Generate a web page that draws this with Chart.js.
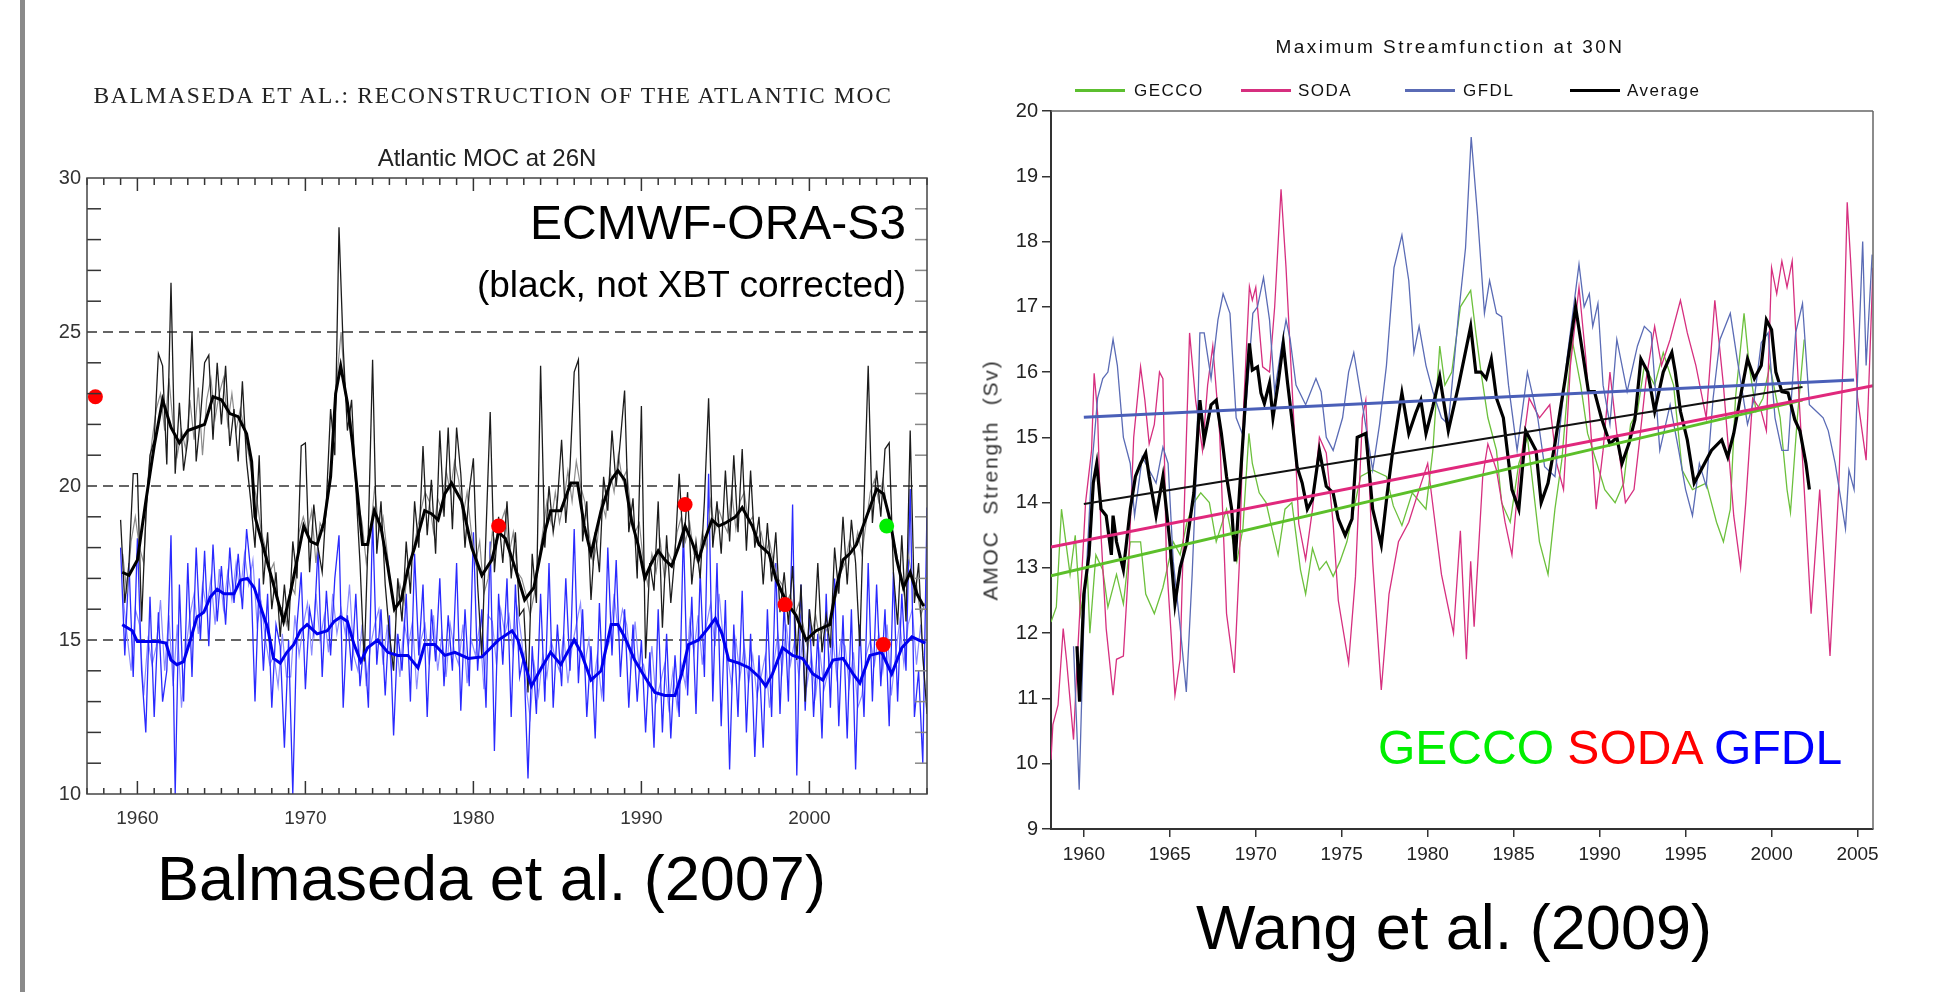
<!DOCTYPE html>
<html>
<head>
<meta charset="utf-8">
<script src="https://cdn.jsdelivr.net/npm/chart.js@4.4.1/dist/chart.umd.min.js"></script>
<style>
  body { margin: 0; width: 1933px; height: 992px; background: #fff; overflow: hidden; position: relative; font-family: 'Liberation Sans', Arial, sans-serif; }
  .abs { position: absolute; white-space: nowrap; line-height: 1; }
  canvas { position: absolute; }
  .leg-line { position: absolute; height: 0; border-top: 3px solid; width: 50px; }
</style>
</head>
<body>
<div class="abs" style="left:20px;top:0;width:5px;height:992px;background:#8a8a8a;"></div>

<canvas id="leftChart" width="960" height="860" style="left:0;top:0;"></canvas>
<canvas id="rightChart" width="973" height="900" style="left:960px;top:0;"></canvas>

<div class="abs" style="left:0;width:986px;top:84px;text-align:center;font-family:'Liberation Serif',serif;font-size:23.5px;letter-spacing:1.7px;color:#222;">BALMASEDA ET AL.: RECONSTRUCTION OF THE ATLANTIC MOC</div>
<div class="abs" style="left:0;width:974px;top:146px;text-align:center;font-size:24px;color:#222;">Atlantic MOC at 26N</div>
<div class="abs" style="left:0;width:906px;top:199px;text-align:right;font-size:48px;color:#000;">ECMWF-ORA-S3</div>
<div class="abs" style="left:0;width:906px;top:266px;text-align:right;font-size:37px;color:#000;">(black, not XBT corrected)</div>
<div class="abs" style="left:157px;top:847px;font-size:63px;color:#000;">Balmaseda et al. (2007)</div>

<div class="abs" style="left:960px;width:980px;top:37px;text-align:center;font-size:19px;letter-spacing:2.5px;color:#111;">Maximum Streamfunction at 30N</div>
<div class="leg-line" style="left:1075px;top:89px;border-color:#5cbf2f;"></div>
<div class="abs" style="left:1134px;top:82px;font-size:17px;letter-spacing:1.5px;color:#111;">GECCO</div>
<div class="leg-line" style="left:1241px;top:89px;border-color:#d62f7f;"></div>
<div class="abs" style="left:1298px;top:82px;font-size:17px;letter-spacing:1.5px;color:#111;">SODA</div>
<div class="leg-line" style="left:1405px;top:89px;border-color:#5a6bb5;"></div>
<div class="abs" style="left:1463px;top:82px;font-size:17px;letter-spacing:1.5px;color:#111;">GFDL</div>
<div class="leg-line" style="left:1570px;top:89px;border-color:#000;"></div>
<div class="abs" style="left:1627px;top:82px;font-size:17px;letter-spacing:1.5px;color:#111;">Average</div>
<div class="abs" style="left:870px;width:240px;top:470px;text-align:center;font-size:21px;letter-spacing:1.8px;word-spacing:8px;color:#333;transform:rotate(-90deg);">AMOC Strength (Sv)</div>
<div class="abs" style="left:1378px;top:724px;font-size:48px;"><span style="color:#00ee00;">GECCO</span> <span style="color:#ff0000;">SODA</span> <span style="color:#0000ff;">GFDL</span></div>
<div class="abs" style="left:1196px;top:896px;font-size:63px;color:#000;">Wang et al. (2009)</div>

<script>
// ---------- left panel: ECMWF-ORA-S3, Atlantic MOC at 26N ----------
const leftYearTicks = [1960, 1970, 1980, 1990, 2000];
const leftValueTicks = [10, 15, 20, 25, 30];
const leftDashedLevels = [15, 20, 25];

// quarterly samples starting at 1959.0 (dark lines) and 1959.125 (light lines)
const ecmwfStartYear = 1959.0;
const ecmwfLightStartYear = 1959.125;
const ecmwfStep = 0.25;
const ecmwfBlack = [
  18.9, 16.2, 17.5, 20.4,  20.4, 15.6, 19.0, 21.0,  21.5, 24.3, 23.9, 20.7,  26.6, 20.4, 22.7, 20.5,
  21.5, 25.0, 20.8, 22.2,  24.0, 24.25, 21.5, 24.0, 22.0, 23.9, 21.3, 22.5,  20.8, 23.4, 20.8, 19.5,
  18.0, 21.0, 16.8, 18.5,  16.0, 17.2, 15.1, 16.8,  15.3, 18.2, 17.0, 21.3,  21.4, 17.2, 19.4, 18.0,
  17.2, 19.5, 22.5, 21.0,  28.4, 24.5, 21.8, 22.8,  20.0, 17.5, 14.3, 18.6,  24.1, 17.8, 19.5, 16.8,
  15.2, 14.0, 17.0, 15.6,  18.2, 16.5, 19.5, 18.0,  21.3, 18.4, 20.2, 17.8,  21.8, 19.0, 21.9, 18.6,
  21.9, 20.4, 18.0, 19.8,  20.9, 16.8, 14.5, 18.5,  22.4, 17.2, 19.0, 17.5,  19.5, 17.0, 18.5, 15.8,
  16.0, 13.3, 17.8, 16.2,  23.9, 18.0, 20.0, 18.5,  19.5, 21.5, 18.8, 20.6,  23.7, 24.1, 18.2, 19.5,
  16.3, 18.5, 17.2, 20.3,  19.2, 21.8, 20.0, 21.5,  23.1, 18.5, 19.6, 17.0,  22.6, 14.4, 17.5, 16.6,
  19.5, 15.4, 18.4, 16.2,  17.8, 20.4, 18.0, 19.8,  16.8, 18.2, 17.0, 19.5,  22.85, 18.0, 19.5, 17.8,
  20.5, 18.2, 21.0, 18.5,  21.2, 17.9, 20.5, 18.0,  19.0, 16.8, 18.8, 16.9,  18.5, 15.9, 17.2, 15.5,
  17.4, 14.35, 16.8, 13.0, 16.0, 14.8, 17.5, 14.6,  15.8, 14.75, 18.0, 16.5, 19.0, 16.8, 18.9, 17.5,
  14.8, 19.5, 23.9, 18.8,  20.5, 19.0, 21.2, 21.4,  17.2, 15.5, 18.4, 15.6,  21.8, 16.2, 17.5, 14.5,
  12.6
];
const ecmwfGray = [
  17.8, 16.5, 18.2, 19.0,  18.0, 17.5, 20.2, 21.5,  22.5, 23.0, 21.8, 23.5,  22.0, 21.0, 21.8, 21.2,
  22.8, 21.5, 23.2, 21.0,  22.8, 23.5, 22.2, 23.0,  23.5, 22.0, 23.0, 21.8,  22.5, 21.8, 21.0, 20.2,
  19.5, 18.5, 18.0, 17.2,  17.5, 16.2, 16.0, 15.5,  16.8, 16.5, 18.5, 19.0,  18.5, 19.2, 17.5, 18.8,
  18.5, 20.0, 21.0, 23.5,  25.0, 23.0, 22.5, 21.2,  19.5, 18.8, 17.5, 18.5,  20.0, 18.5, 19.0, 17.8,
  16.5, 15.8, 16.8, 16.2,  17.5, 17.8, 18.5, 19.2,  19.8, 19.5, 18.5, 19.6,  19.2, 20.5, 19.8, 20.8,
  20.2, 19.0, 19.8, 18.5,  17.5, 18.2, 16.5, 17.0,  18.5, 18.0, 18.8, 19.2,  17.8, 18.5, 17.2, 17.0,
  16.5, 15.8, 16.5, 17.5,  18.5, 19.5, 18.8, 19.8,  18.8, 19.5, 20.5, 19.5,  20.8, 20.0, 19.5, 18.5,
  17.5, 18.2, 19.5, 19.0,  20.5, 19.8, 21.0, 20.2,  20.5, 19.2, 18.5, 18.8,  17.5, 16.8, 17.8, 17.2,
  18.2, 17.0, 17.8, 17.5,  18.5, 19.0, 18.2, 18.8,  17.8, 17.5, 18.5, 18.0,  19.5, 18.5, 19.2, 18.8,
  18.5, 19.8, 18.6, 19.5,  19.8, 18.8, 19.0, 18.2,  18.5, 17.8, 18.2, 17.5,  17.0, 16.8, 16.2, 16.5,
  15.8, 16.2, 15.5, 14.8,  15.2, 15.8, 15.0, 15.5,  15.2, 16.0, 16.5, 17.2,  17.5, 18.2, 17.8, 18.5,
  17.8, 18.8, 19.8, 20.2,  19.5, 20.2, 19.2, 18.5,  18.0, 17.2, 16.5, 17.8,  17.0, 16.8, 15.8, 16.2
];
const ecmwfBlue = [
  18.0, 14.5, 17.5, 13.8,  18.3, 14.0, 12.0, 16.4,  12.5, 15.9, 13.0, 14.0,  18.4, 10.0, 16.8, 13.0,
  17.5, 13.8, 18.0, 15.0,  17.9, 14.8, 18.1, 15.6,  17.4, 15.5, 18.0, 16.2,  17.8, 16.0, 18.6, 17.2,
  13.0, 17.0, 14.0, 16.5,  12.8, 15.5, 14.8, 11.5,  15.0, 10.0, 15.5, 17.2,  13.4, 16.0, 15.2, 18.0,
  13.8, 16.6, 14.5, 17.0,  18.4, 12.8, 15.8, 14.0,  16.5, 13.5, 15.0, 12.8,  19.0, 14.2, 16.0, 13.2,
  15.8, 11.9, 15.2, 14.0,  16.5, 13.0, 17.8, 14.5,  16.8, 12.5, 16.0, 14.3,  17.0, 13.5, 15.8, 14.0,
  17.5, 12.7, 16.0, 13.5,  18.5, 14.0, 16.0, 12.8,  18.2, 11.4, 16.5, 14.2,  17.0, 12.5, 16.8, 13.8,
  14.5, 10.5, 14.8, 12.6,  16.5, 13.0, 17.5, 12.8,  15.5, 13.5, 17.0, 14.0,  18.6, 13.6, 16.0, 12.5,
  14.8, 11.8, 16.2, 13.0,  18.0, 14.5, 17.6, 13.8,  16.0, 12.8, 15.5, 13.0,  15.0, 12.0, 14.6, 11.5,
  16.0, 12.0, 15.2, 11.8,  14.5, 12.5, 18.6, 13.2,  16.4, 12.6, 17.2, 13.8,  20.4, 13.0, 17.5, 12.2,
  16.3, 10.8, 15.5, 12.5,  16.6, 12.0, 15.2, 11.2,  14.5, 11.5, 16.0, 12.5,  17.5, 12.6, 16.2, 13.0,
  19.4, 10.6, 16.8, 12.7,  16.0, 12.5, 15.2, 11.8,  16.5, 12.8, 17.0, 12.2,  15.8, 11.8, 16.0, 10.8,
  15.5, 12.5, 17.5, 13.0,  16.8, 13.5, 16.0, 12.2,  17.2, 13.0, 16.5, 14.0,  19.9, 12.5, 14.0, 11.0,
  19.3
];
const ecmwfBlueLight = [
  16.5, 15.2, 14.0, 16.0,  15.5, 13.2, 15.0, 14.2,  14.8, 16.3, 14.0, 15.8,  13.5, 15.5, 12.8, 14.6,
  15.8, 16.5, 15.2, 16.8,  16.0, 17.0, 15.5, 17.3,  16.0, 17.2, 16.3, 17.5,  16.5, 17.8, 16.8, 17.6,
  15.5, 16.2, 15.0, 14.2,  14.5, 13.5, 15.2, 13.8,  13.8, 15.8, 14.5, 15.5,  16.2, 14.5, 16.5, 15.0,
  15.8, 14.6, 16.5, 15.2,  16.0, 15.2, 16.8, 14.5,  14.0, 15.5, 13.5, 14.8,  15.5, 16.0, 14.2, 15.5,
  14.0, 15.2, 13.8, 15.6,  14.8, 15.6, 13.4, 15.0,  15.5, 14.2, 15.8, 14.0,  15.2, 13.8, 15.5, 14.6,
  14.2, 15.5, 13.6, 15.0,  14.5, 15.5, 13.4, 15.8,  15.6, 14.2, 16.0, 15.2,  15.8, 14.6, 16.0, 15.0,
  13.5, 12.5, 14.2, 13.2,  14.5, 13.8, 15.0, 14.4,  14.0, 15.2, 13.6, 14.8,  15.5, 16.2, 14.2, 15.0,
  13.5, 14.5, 13.2, 14.6,  15.0, 16.5, 15.2, 16.0,  15.5, 14.2, 15.6, 14.0,  14.2, 13.5, 14.8, 13.0,
  13.6, 14.2, 12.8, 14.0,  12.8, 14.2, 13.5, 15.6,  14.6, 15.8, 14.2, 15.5,  16.2, 14.8, 16.5, 15.0,
  14.5, 13.5, 15.0, 13.8,  14.8, 13.6, 14.5, 13.2,  13.8, 14.5, 12.8, 14.2,  15.2, 14.0, 15.5, 14.2,
  15.0, 13.8, 15.2, 13.6,  14.5, 13.2, 14.6, 13.4,  14.0, 15.2, 13.8, 15.0,  14.8, 13.5, 14.6, 12.8,
  13.2, 14.5, 15.0, 14.2,  15.2, 14.0, 15.5, 13.2,  14.5, 15.6, 14.2, 15.5,  16.0, 14.2, 15.5, 13.5
];
// smoothed curves, [year, value]
const ecmwfBlackSmooth = [
  [1959.1, 17.2], [1959.5, 17.1], [1960.0, 17.6], [1960.5, 19.5], [1961.0, 21.3], [1961.5, 22.8],
  [1962.0, 21.9], [1962.5, 21.4], [1963.0, 21.8], [1963.5, 21.9], [1964.0, 22.0], [1964.5, 22.9],
  [1965.0, 22.8], [1965.5, 22.35], [1966.0, 22.25], [1966.5, 21.7], [1966.8, 20.8], [1967.0, 19.0],
  [1967.5, 18.0], [1968.0, 17.0], [1968.7, 15.6], [1969.1, 16.5], [1969.5, 17.6], [1969.9, 18.7],
  [1970.3, 18.2], [1970.7, 18.1], [1971.1, 18.8], [1971.5, 20.3], [1971.8, 23.0], [1972.1, 23.9],
  [1972.5, 22.7], [1972.8, 21.4], [1973.1, 19.75], [1973.4, 18.1], [1973.7, 18.1], [1974.1, 19.2],
  [1974.5, 18.65], [1974.9, 17.4], [1975.3, 16.0], [1975.7, 16.3], [1976.1, 17.3], [1976.5, 18.0],
  [1977.1, 19.2], [1977.5, 19.1], [1977.9, 18.9], [1978.3, 19.75], [1978.7, 20.1], [1979.3, 19.5],
  [1979.9, 18.0], [1980.5, 17.1], [1981.1, 17.6], [1981.5, 18.5], [1981.9, 18.3], [1982.45, 17.4],
  [1983.05, 16.3], [1983.6, 16.7], [1984.25, 18.5], [1984.6, 19.2], [1985.2, 19.2], [1985.8, 20.1],
  [1986.2, 20.1], [1986.6, 18.7], [1987.0, 17.8], [1987.6, 19.2], [1988.2, 20.2], [1988.6, 20.5],
  [1989.0, 20.2], [1989.4, 18.9], [1989.8, 18.1], [1990.2, 17.0], [1990.6, 17.5], [1991.0, 17.9],
  [1991.4, 17.6], [1991.8, 17.4], [1992.2, 18.0], [1992.6, 18.7], [1993.0, 18.2], [1993.4, 17.6],
  [1993.8, 18.3], [1994.2, 18.9], [1994.6, 18.7], [1995.0, 18.8], [1995.6, 19.0], [1996.0, 19.3],
  [1996.6, 18.7], [1997.0, 18.1], [1997.6, 17.8], [1998.0, 17.0], [1998.4, 16.5], [1998.8, 16.1],
  [1999.2, 15.8], [1999.8, 15.0], [2000.4, 15.3], [2001.2, 15.5], [2001.6, 16.7], [2002.0, 17.6],
  [2002.4, 17.8], [2002.8, 18.1], [2003.2, 18.7], [2003.6, 19.3], [2004.0, 19.9], [2004.4, 19.75],
  [2004.8, 18.9], [2005.2, 17.6], [2005.6, 16.7], [2006.0, 17.2], [2006.4, 16.5], [2006.8, 16.1]
];
const ecmwfBlueSmooth = [
  [1959.1, 15.5], [1959.4, 15.4], [1959.7, 15.3], [1960.0, 14.95], [1960.6, 14.95], [1961.2, 14.95],
  [1961.7, 14.9], [1962.0, 14.35], [1962.35, 14.2], [1962.75, 14.3], [1963.15, 15.0], [1963.55, 15.75],
  [1963.95, 15.9], [1964.35, 16.4], [1964.75, 16.65], [1965.15, 16.5], [1965.75, 16.5], [1966.15, 16.95],
  [1966.55, 17.0], [1966.95, 16.7], [1967.35, 16.05], [1967.75, 15.4], [1968.1, 14.4], [1968.5, 14.25],
  [1968.9, 14.6], [1969.3, 14.85], [1969.7, 15.3], [1970.1, 15.5], [1970.7, 15.2], [1971.3, 15.3],
  [1971.7, 15.6], [1972.1, 15.75], [1972.5, 15.6], [1972.9, 14.85], [1973.3, 14.3], [1973.7, 14.75],
  [1974.3, 15.0], [1974.9, 14.6], [1975.5, 14.5], [1976.1, 14.5], [1976.7, 14.1], [1977.1, 14.85],
  [1977.7, 14.85], [1978.3, 14.5], [1978.9, 14.6], [1979.7, 14.4], [1980.5, 14.45], [1981.5, 15.0],
  [1982.3, 15.3], [1982.65, 15.0], [1983.45, 13.5], [1984.05, 14.1], [1984.6, 14.6], [1985.2, 14.2],
  [1986.0, 15.0], [1986.4, 14.6], [1987.0, 13.7], [1987.6, 14.0], [1988.2, 15.5], [1988.6, 15.5],
  [1989.0, 15.1], [1989.6, 14.35], [1990.2, 13.8], [1990.8, 13.3], [1991.4, 13.2], [1992.0, 13.2],
  [1992.4, 13.9], [1992.8, 14.85], [1993.4, 15.0], [1994.0, 15.4], [1994.4, 15.7], [1994.8, 15.2],
  [1995.2, 14.35], [1995.8, 14.25], [1996.4, 14.1], [1997.0, 13.8], [1997.4, 13.5], [1997.8, 13.9],
  [1998.4, 14.75], [1999.0, 14.5], [1999.6, 14.4], [2000.2, 13.9], [2000.8, 13.7], [2001.4, 14.35],
  [2002.0, 14.4], [2002.6, 13.9], [2003.0, 13.6], [2003.6, 14.5], [2004.3, 14.6], [2004.9, 13.9],
  [2005.5, 14.75], [2006.1, 15.1], [2006.9, 14.9]
];
// observational estimates (dots)
const redDotYears = [1957.5, 1981.5, 1992.6, 1998.55, 2004.4];
const redDotValues = [22.9, 18.7, 19.4, 16.15, 14.85];
const greenDotYears = [2004.6];
const greenDotValues = [18.7];

// ---------- right panel: Maximum Streamfunction at 30N ----------
const rightYearTicks = [1960, 1965, 1970, 1975, 1980, 1985, 1990, 1995, 2000, 2005];
const rightValueTicks = [9, 10, 11, 12, 13, 14, 15, 16, 17, 18, 19, 20];

const gecco = [
  [1958.09, 12.17], [1958.4, 12.4], [1958.7, 13.9], [1959.2, 12.9], [1959.5, 13.5], [1959.8, 12.3],
  [1960.2, 12.97], [1960.35, 12.0], [1960.7, 13.2], [1961.1, 12.97], [1961.4, 12.4], [1961.9, 12.9],
  [1962.3, 12.45], [1962.7, 13.4], [1963.3, 13.4], [1963.6, 12.6], [1964.1, 12.3], [1964.6, 12.7],
  [1965.2, 13.4], [1965.6, 13.2], [1966.0, 13.7], [1966.4, 14.0], [1966.8, 14.15], [1967.3, 14.0],
  [1967.7, 13.4], [1968.3, 13.9], [1968.9, 13.1], [1969.25, 13.6], [1969.6, 15.06], [1969.8, 14.6],
  [1970.2, 14.15], [1970.6, 14.0], [1970.9, 13.65], [1971.3, 13.2], [1971.7, 13.9], [1972.1, 14.0],
  [1972.6, 12.97], [1972.9, 12.6], [1973.3, 13.3], [1973.7, 12.97], [1974.1, 13.1], [1974.5, 12.87],
  [1974.9, 13.1], [1975.3, 13.4], [1975.7, 13.9], [1976.1, 14.4], [1976.8, 14.5], [1977.6, 14.4],
  [1978.0, 13.95], [1978.5, 13.65], [1979.1, 14.15], [1979.9, 13.9], [1980.3, 14.8], [1980.7, 16.4],
  [1981.0, 15.8], [1981.4, 16.0], [1981.9, 17.0], [1982.5, 17.25], [1982.8, 16.6], [1983.1, 16.0],
  [1983.5, 15.3], [1984.0, 14.8], [1984.3, 14.0], [1984.8, 13.7], [1985.3, 14.6], [1985.8, 15.0],
  [1986.5, 13.4], [1987.0, 12.9], [1987.4, 13.9], [1987.8, 14.65], [1988.1, 15.6], [1988.4, 16.5],
  [1988.9, 15.8], [1989.3, 15.06], [1989.9, 14.55], [1990.3, 14.2], [1990.9, 14.0], [1991.4, 14.3],
  [1991.8, 15.2], [1992.2, 15.4], [1992.6, 16.1], [1993.2, 15.8], [1993.7, 16.3], [1994.3, 15.8],
  [1994.8, 14.5], [1995.4, 14.2], [1996.2, 14.3], [1996.8, 13.7], [1997.2, 13.4], [1997.6, 13.9],
  [1997.9, 15.6], [1998.4, 16.9], [1998.7, 16.1], [1999.1, 15.4], [1999.5, 15.6], [1999.9, 16.1],
  [2000.5, 15.3], [2000.9, 14.2], [2001.1, 13.85], [2001.5, 15.3], [2001.9, 16.5]
];
const soda = [
  [1958.09, 10.06], [1958.2, 10.6], [1958.5, 10.9], [1958.8, 12.07], [1959.0, 11.57], [1959.4, 10.37],
  [1959.6, 11.5], [1959.8, 12.5], [1960.1, 14.0], [1960.45, 14.8], [1960.6, 15.98], [1960.8, 15.37],
  [1961.0, 13.5], [1961.3, 12.07], [1961.7, 11.05], [1961.9, 11.6], [1962.3, 11.65], [1962.6, 13.0],
  [1962.9, 15.0], [1963.3, 16.08], [1963.55, 15.57], [1963.8, 14.9], [1964.1, 15.2], [1964.4, 16.0],
  [1964.6, 15.9], [1964.8, 13.13], [1965.3, 11.05], [1965.6, 11.6], [1965.85, 14.0], [1966.15, 16.6],
  [1966.5, 15.57], [1966.9, 14.8], [1967.2, 15.8], [1967.5, 16.4], [1967.9, 15.06], [1968.3, 12.3],
  [1968.75, 11.39], [1969.05, 13.1], [1969.3, 15.5], [1969.63, 17.31], [1969.8, 17.1], [1970.0, 17.3],
  [1970.4, 16.08], [1970.8, 16.0], [1971.1, 17.0], [1971.47, 18.8], [1971.76, 17.6], [1972.05, 16.08],
  [1972.3, 14.8], [1972.5, 13.68], [1972.9, 13.13], [1973.3, 13.9], [1973.7, 15.0], [1974.1, 14.76],
  [1974.5, 13.68], [1974.8, 12.5], [1975.4, 11.54], [1975.8, 12.87], [1976.2, 15.3], [1976.4, 15.57],
  [1976.8, 13.1], [1977.3, 11.13], [1977.75, 12.6], [1978.3, 13.4], [1978.9, 13.7], [1979.5, 14.2],
  [1980.0, 14.6], [1980.2, 14.17], [1980.8, 12.9], [1981.5, 12.0], [1981.9, 13.57], [1982.25, 11.6],
  [1982.5, 13.1], [1982.7, 12.1], [1983.2, 14.4], [1983.5, 14.9], [1984.0, 14.5], [1984.5, 13.7],
  [1984.9, 13.2], [1985.3, 14.4], [1985.9, 15.6], [1986.5, 15.3], [1987.1, 15.5], [1987.5, 14.6],
  [1987.9, 14.2], [1988.3, 16.1], [1988.8, 17.3], [1989.2, 16.2], [1989.8, 13.9], [1990.2, 14.8],
  [1990.6, 16.0], [1991.0, 15.06], [1991.5, 14.0], [1992.0, 14.2], [1992.3, 14.9], [1992.7, 15.88],
  [1993.2, 16.7], [1993.6, 16.1], [1994.1, 16.5], [1994.7, 17.1], [1995.1, 16.6], [1995.6, 16.1],
  [1996.2, 15.3], [1996.7, 17.1], [1997.2, 15.8], [1997.8, 13.8], [1998.2, 13.0], [1998.5, 14.0],
  [1998.9, 15.6], [1999.4, 15.4], [1999.7, 15.1], [2000.0, 17.6], [2000.3, 17.2], [2000.6, 17.7],
  [2000.9, 17.3], [2001.2, 17.7], [2001.6, 15.6], [2001.9, 14.2], [2002.3, 12.3], [2002.8, 14.2],
  [2003.4, 11.65], [2003.9, 14.2], [2004.2, 16.5], [2004.4, 18.6], [2004.6, 17.7], [2005.0, 15.6],
  [2005.5, 14.65], [2005.9, 17.6]
];
const gfdl = [
  [1959.4, 11.8], [1959.73, 9.6], [1960.0, 12.2], [1960.45, 14.5], [1960.8, 15.6], [1961.1, 15.9],
  [1961.4, 16.0], [1961.7, 16.5], [1961.95, 16.1], [1962.3, 15.0], [1962.7, 14.6], [1962.95, 13.8],
  [1963.4, 14.7], [1963.8, 14.5], [1964.2, 14.3], [1964.6, 14.85], [1964.9, 14.6], [1965.2, 13.1],
  [1965.6, 12.1], [1965.96, 11.1], [1966.3, 12.9], [1966.5, 14.2], [1966.75, 16.6], [1967.0, 16.6],
  [1967.4, 15.9], [1967.8, 16.8], [1968.1, 17.2], [1968.5, 16.9], [1968.86, 15.3], [1969.3, 15.0],
  [1969.83, 16.9], [1970.1, 17.0], [1970.45, 17.45], [1970.8, 16.8], [1971.1, 15.7], [1971.5, 16.4],
  [1971.76, 16.8], [1972.0, 16.5], [1972.34, 15.8], [1972.9, 15.5], [1973.5, 15.9], [1973.8, 15.7],
  [1974.1, 15.0], [1974.5, 14.8], [1975.05, 15.3], [1975.4, 16.0], [1975.7, 16.3], [1976.2, 15.5],
  [1976.8, 14.5], [1977.2, 15.2], [1977.6, 16.1], [1978.04, 17.6], [1978.5, 18.1], [1978.9, 17.4],
  [1979.2, 16.3], [1979.5, 16.7], [1979.9, 16.1], [1980.3, 15.7], [1980.8, 15.3], [1981.2, 15.2],
  [1981.8, 16.9], [1982.2, 17.9], [1982.53, 19.6], [1982.9, 18.4], [1983.3, 16.9], [1983.6, 17.4],
  [1984.0, 16.9], [1984.3, 16.85], [1984.7, 15.8], [1985.2, 14.8], [1985.8, 16.0], [1986.4, 15.3],
  [1986.8, 14.55], [1987.4, 14.4], [1988.1, 16.2], [1988.8, 17.65], [1989.1, 17.0], [1989.4, 17.2],
  [1989.6, 16.7], [1989.9, 17.05], [1990.2, 15.8], [1990.6, 15.2], [1991.0, 16.5], [1991.6, 15.7],
  [1992.2, 16.4], [1992.6, 16.7], [1993.0, 16.6], [1993.5, 14.8], [1994.1, 15.5], [1994.6, 14.8],
  [1995.0, 14.2], [1995.4, 13.8], [1995.8, 14.6], [1996.2, 14.25], [1996.6, 15.6], [1997.0, 16.5],
  [1997.6, 16.9], [1998.0, 16.2], [1998.6, 15.2], [1999.0, 15.6], [1999.4, 16.45], [1999.8, 16.6],
  [2000.2, 15.3], [2000.6, 14.8], [2000.96, 14.8], [2001.4, 16.6], [2001.8, 17.05], [2002.2, 15.5],
  [2002.6, 15.4], [2003.0, 15.3], [2003.3, 15.1], [2003.7, 14.6], [2004.3, 13.6], [2004.5, 14.5],
  [2004.8, 14.2], [2005.0, 15.9], [2005.3, 18.0], [2005.5, 16.1], [2005.85, 17.8]
];
const average = [
  [1959.6, 11.8], [1959.75, 10.95], [1960.0, 12.6], [1960.3, 13.2], [1960.55, 14.3], [1960.75, 14.6],
  [1961.0, 13.9], [1961.3, 13.8], [1961.6, 13.2], [1961.7, 13.8], [1961.9, 13.4], [1962.3, 12.97],
  [1962.7, 13.9], [1963.0, 14.4], [1963.3, 14.6], [1963.6, 14.76], [1963.8, 14.4], [1964.2, 13.8],
  [1964.6, 14.4], [1965.0, 13.4], [1965.3, 12.45], [1965.6, 13.0], [1966.0, 13.4], [1966.4, 14.15],
  [1966.75, 15.57], [1967.0, 14.96], [1967.4, 15.5], [1967.7, 15.57], [1968.0, 15.06], [1968.3, 14.4],
  [1968.6, 13.9], [1968.8, 13.1], [1969.05, 14.15], [1969.4, 15.57], [1969.63, 16.44], [1969.8, 16.03],
  [1970.1, 16.08], [1970.3, 15.68], [1970.5, 15.52], [1970.8, 15.83], [1971.0, 15.3], [1971.3, 15.83],
  [1971.6, 16.44], [1971.85, 15.83], [1972.15, 15.17], [1972.4, 14.55], [1972.7, 14.3], [1973.0, 13.9],
  [1973.3, 14.05], [1973.7, 14.8], [1974.1, 14.25], [1974.5, 14.15], [1974.8, 13.75], [1975.2, 13.5],
  [1975.6, 13.75], [1975.9, 15.0], [1976.4, 15.06], [1976.8, 13.9], [1977.3, 13.35], [1977.65, 14.15],
  [1977.95, 14.76], [1978.5, 15.68], [1978.9, 15.06], [1979.3, 15.37], [1979.6, 15.57], [1979.9, 15.06],
  [1980.3, 15.47], [1980.7, 15.93], [1981.2, 15.1], [1981.8, 15.8], [1982.5, 16.7], [1982.8, 16.0],
  [1983.1, 16.0], [1983.4, 15.9], [1983.7, 16.2], [1984.0, 15.6], [1984.4, 15.3], [1984.9, 14.2],
  [1985.3, 13.9], [1985.7, 15.1], [1986.3, 14.8], [1986.6, 14.0], [1987.0, 14.3], [1987.4, 14.9],
  [1988.0, 15.9], [1988.6, 17.0], [1988.95, 16.4], [1989.35, 15.7], [1989.7, 15.7], [1990.1, 15.3],
  [1990.6, 14.9], [1991.0, 15.0], [1991.3, 14.6], [1991.7, 14.9], [1992.05, 15.27], [1992.4, 16.2],
  [1992.8, 16.0], [1993.2, 15.4], [1993.7, 16.0], [1994.2, 16.3], [1994.4, 16.0], [1994.7, 15.4],
  [1995.1, 14.96], [1995.5, 14.3], [1996.1, 14.6], [1996.5, 14.8], [1997.1, 14.96], [1997.45, 14.7],
  [1997.8, 15.06], [1998.3, 15.78], [1998.6, 16.2], [1999.0, 15.9], [1999.4, 16.1], [1999.7, 16.8],
  [2000.0, 16.65], [2000.25, 16.0], [2000.6, 15.7], [2000.96, 15.68], [2001.35, 15.27], [2001.65, 15.1],
  [2002.0, 14.6], [2002.2, 14.2]
];
// linear trends: [start, end]
const geccoTrend = [[1958.09, 12.88], [2001.8, 15.57]];
const sodaTrend = [[1958.09, 13.32], [2005.9, 15.79]];
const gfdlTrend = [[1960.0, 15.31], [2004.8, 15.88]];
const averageTrend = [[1960.0, 13.98], [2001.8, 15.77]];

// ---------- helpers ----------
const toPoints = pairs => pairs.map(p => ({ x: p[0], y: p[1] }));
const stepPoints = (start, step, values) => values.map((v, i) => ({ x: start + i * step, y: v }));
const zipPoints = (xs, ys) => xs.map((x, i) => ({ x: x, y: ys[i] }));

function lineSet(label, data, color, width, order) {
  return { label, data, borderColor: color, borderWidth: width, pointRadius: 0, tension: 0, fill: false, order };
}

function fixedTicks(values) {
  return scale => { scale.ticks = values.map(v => ({ value: v })); };
}

function strokeLine(ctx, x1, y1, x2, y2) {
  ctx.beginPath();
  ctx.moveTo(x1, y1);
  ctx.lineTo(x2, y2);
  ctx.stroke();
}

// dashed levels drawn under the data, frame and inward ticks on top
const leftFrame = {
  id: 'leftFrame',
  beforeDatasetsDraw(chart) {
    const { ctx, chartArea: a, scales: { y } } = chart;
    ctx.save();
    ctx.strokeStyle = '#333';
    ctx.lineWidth = 1.5;
    ctx.setLineDash([10, 6]);
    leftDashedLevels.forEach(v => {
      const py = y.getPixelForValue(v);
      strokeLine(ctx, a.left, py, a.right, py);
    });
    ctx.restore();
  },
  afterDatasetsDraw(chart) {
    const { ctx, chartArea: a, scales: { x, y } } = chart;
    ctx.save();
    ctx.lineWidth = 1.5;
    ctx.strokeStyle = '#333';
    for (let yr = Math.ceil(x.min); yr <= x.max; yr++) {
      const px = x.getPixelForValue(yr);
      const major = yr % 10 === 0;
      strokeLine(ctx, px, a.top, px, a.top + (major ? 13 : 7));
      strokeLine(ctx, px, a.bottom, px, a.bottom - (major ? 13 : 6));
    }
    for (let v = y.min + 1; v < y.max; v++) {
      if (v % 5 === 0) continue;
      const py = y.getPixelForValue(v);
      ctx.strokeStyle = '#333';
      strokeLine(ctx, a.left, py, a.left + 14, py);
      ctx.strokeStyle = '#888';
      strokeLine(ctx, a.right, py, a.right - 12, py);
    }
    ctx.strokeStyle = '#444';
    ctx.strokeRect(a.left, a.top, a.right - a.left, a.bottom - a.top);
    ctx.restore();
  }
};

const rightFrame = {
  id: 'rightFrame',
  afterDatasetsDraw(chart) {
    const { ctx, chartArea: a } = chart;
    ctx.save();
    ctx.strokeStyle = '#666';
    ctx.lineWidth = 1.5;
    strokeLine(ctx, a.left, a.top, a.right, a.top);
    strokeLine(ctx, a.right, a.top, a.right, a.bottom);
    ctx.restore();
  }
};

Chart.defaults.animation = false;
Chart.defaults.font.family = "'Liberation Sans', Arial, sans-serif";

function createLeftChart(ctx) {
  return new Chart(ctx, {
    type: 'line',
    data: {
      datasets: [
        { type: 'scatter', label: 'obs', data: zipPoints(redDotYears, redDotValues), backgroundColor: '#ff0000', borderWidth: 0, pointRadius: 7.5, order: 0 },
        { type: 'scatter', label: 'obs2', data: zipPoints(greenDotYears, greenDotValues), backgroundColor: '#00ee00', borderWidth: 0, pointRadius: 7.5, order: 0 },
        lineSet('black smooth', toPoints(ecmwfBlackSmooth), '#000', 3, 1),
        lineSet('blue smooth', toPoints(ecmwfBlueSmooth), '#0000ee', 3, 2),
        lineSet('black', stepPoints(ecmwfStartYear, ecmwfStep, ecmwfBlack), '#1c1c1c', 1.3, 3),
        lineSet('gray', stepPoints(ecmwfLightStartYear, ecmwfStep, ecmwfGray), '#8c8c8c', 1.2, 4),
        lineSet('blue', stepPoints(ecmwfStartYear, ecmwfStep, ecmwfBlue), '#2a2aff', 1.3, 5),
        lineSet('light blue', stepPoints(ecmwfLightStartYear, ecmwfStep, ecmwfBlueLight), '#8c8cff', 1.2, 6)
      ]
    },
    options: {
      responsive: false,
      layout: { padding: { top: 178, right: 33, left: 0, bottom: 0 } },
      plugins: { legend: { display: false }, tooltip: { enabled: false } },
      scales: {
        x: {
          type: 'linear', min: 1957, max: 2007,
          grid: { display: false, drawTicks: false }, border: { display: false },
          afterBuildTicks: fixedTicks(leftYearTicks),
          afterFit: s => { s.height = 66; },
          ticks: { padding: 13, color: '#333', font: { size: 19 }, maxRotation: 0, callback: v => String(v) }
        },
        y: {
          type: 'linear', min: 10, max: 30,
          grid: { display: false, drawTicks: false }, border: { display: false },
          afterBuildTicks: fixedTicks(leftValueTicks),
          afterFit: s => { s.width = 87; },
          ticks: { padding: 6, color: '#333', font: { size: 20 }, callback: v => String(v) }
        }
      }
    },
    plugins: [leftFrame]
  });
}

function createRightChart(ctx) {
  return new Chart(ctx, {
    type: 'line',
    data: {
      datasets: [
        lineSet('Average trend', toPoints(averageTrend), '#111', 2, 0),
        lineSet('GFDL trend', toPoints(gfdlTrend), '#4a5fb8', 3, 0),
        lineSet('SODA trend', toPoints(sodaTrend), '#e0287c', 3, 0),
        lineSet('GECCO trend', toPoints(geccoTrend), '#5cbf2a', 3, 0),
        lineSet('Average', toPoints(average), '#000', 3.2, 1),
        lineSet('GFDL', toPoints(gfdl), '#5a6bb5', 1.3, 2),
        lineSet('SODA', toPoints(soda), '#d62f7f', 1.3, 3),
        lineSet('GECCO', toPoints(gecco), '#6cc03c', 1.3, 4)
      ]
    },
    options: {
      responsive: false,
      layout: { padding: { top: 111, right: 60, left: 0, bottom: 0 } },
      plugins: { legend: { display: false }, tooltip: { enabled: false } },
      scales: {
        x: {
          type: 'linear', min: 1958.09, max: 2005.9,
          grid: { drawOnChartArea: false, drawTicks: true, tickLength: 8, color: '#333', lineWidth: 1.5 },
          border: { display: true, color: '#333', width: 2 },
          afterBuildTicks: fixedTicks(rightYearTicks),
          afterFit: s => { s.height = 71; },
          ticks: { padding: 6, color: '#222', font: { size: 19 }, maxRotation: 0, callback: v => String(v) }
        },
        y: {
          type: 'linear', min: 9, max: 20,
          grid: { drawOnChartArea: false, drawTicks: true, tickLength: 9, color: '#333', lineWidth: 1.5 },
          border: { display: true, color: '#333', width: 2 },
          afterBuildTicks: fixedTicks(rightValueTicks),
          afterFit: s => { s.width = 91; },
          ticks: { padding: 4, color: '#222', font: { size: 20 }, callback: v => String(v) }
        }
      }
    },
    plugins: [rightFrame]
  });
}

document.addEventListener('DOMContentLoaded', () => {
  createLeftChart(document.getElementById('leftChart').getContext('2d'));
  createRightChart(document.getElementById('rightChart').getContext('2d'));
});
</script>
</body>
</html>
